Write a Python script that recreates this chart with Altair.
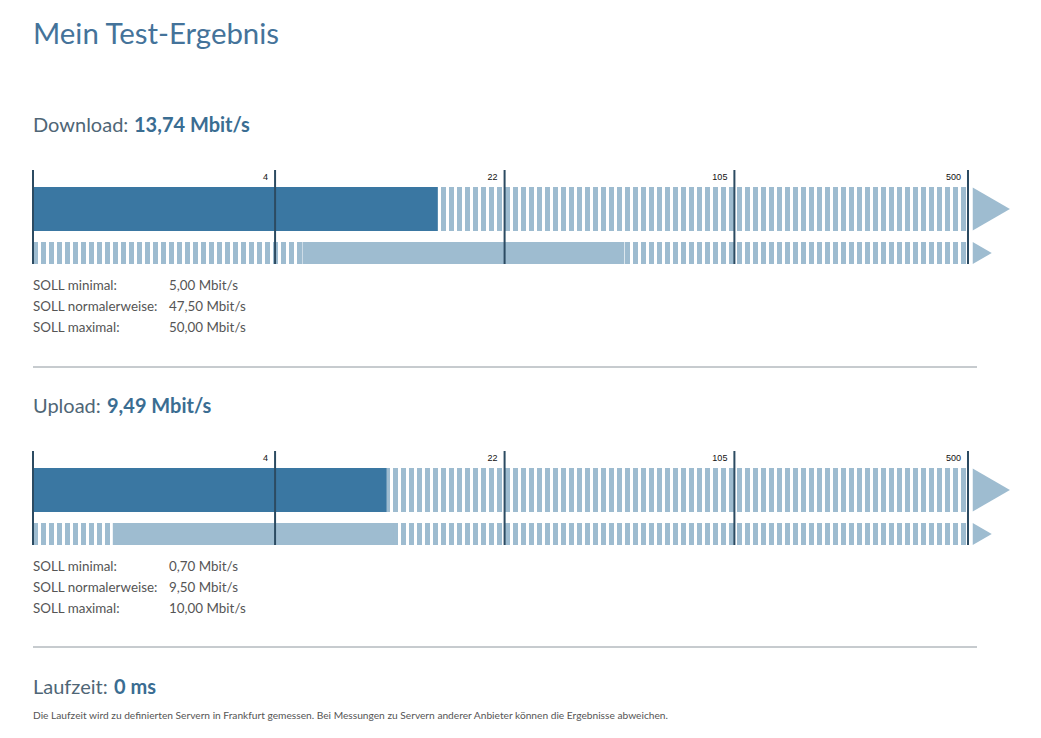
import altair as alt
import pandas as pd

# ---------------- data ----------------
sections = ["Download", "Upload"]
measured = [13.74, 9.49]
soll_min = [5.00, 0.70]
soll_norm = [47.50, 9.50]
soll_max = [50.00, 10.00]
tick_values = [0, 4, 22, 105, 500]
tick_labels = ["", "4", "22", "105", "500"]
soll_labels = ["SOLL minimal:", "SOLL normalerweise:", "SOLL maximal:"]
unit = "Mbit/s"
laufzeit_ms = 0
title_text = "Mein Test-Ergebnis"
footer_text = ("Die Laufzeit wird zu definierten Servern in Frankfurt gemessen. "
               "Bei Messungen zu Servern anderer Anbieter können die Ergebnisse abweichen.")


def de(v):
    return f"{v:.2f}".replace(".", ",")


# ---------------- style ----------------
DARK = "#3a77a2"
LIGHT = "#9ebcd0"
TICK = "#2c4b62"
TITLE = "#44739a"
HEAD_REG = "#4f6676"
HEAD_BOLD = "#3a6d92"
TEXT = "#555555"
SEP = "#8e979e"
FONT = "Lato"

XS = alt.Scale(type="symlog", constant=1, domain=[tick_values[0], tick_values[-1]], range=[25, 960])


def xq(field):
    return alt.X(f"{field}:Q", scale=XS, axis=None)


def text_layer(txt, x, y, size, color, weight="normal", font=FONT, align="left"):
    return alt.Chart(pd.DataFrame({"t": [txt]})).mark_text(
        align=align, baseline="alphabetic", fontSize=size, font=font,
        fontWeight=weight, color=color
    ).encode(x=alt.value(x), y=alt.value(y), text="t:N")


def section(i, off, sep_off):
    layers = []
    # header
    layers.append(text_layer(f"{sections[i]}:", 25, 124 + off, 20, HEAD_REG))
    layers.append(text_layer(f"{de(measured[i])} {unit}", 126 if i == 0 else 99, 124 + off, 20,
                             HEAD_BOLD, weight="bold"))
    full = pd.DataFrame({"start": [tick_values[0]], "end": [tick_values[-1]]})
    # striped backgrounds
    layers.append(alt.Chart(full).mark_rule(color=LIGHT, strokeWidth=44, strokeDash=[5, 3],
                                            strokeCap="butt").encode(
        x=xq("start"), x2="end:Q", y=alt.value(201 + off)))
    layers.append(alt.Chart(full).mark_rule(color=LIGHT, strokeWidth=22, strokeDash=[5, 3],
                                            strokeCap="butt").encode(
        x=xq("start"), x2="end:Q", y=alt.value(245 + off)))
    # measured bar
    meas = pd.DataFrame({"start": [tick_values[0]], "value": [measured[i]]})
    layers.append(alt.Chart(meas).mark_rect(color=DARK).encode(
        x=xq("start"), x2="value:Q", y=alt.value(179 + off), y2=alt.value(223 + off)))
    # target range bar
    soll = pd.DataFrame({"lo": [soll_min[i]], "hi": [soll_max[i]]})
    layers.append(alt.Chart(soll).mark_rect(color=LIGHT).encode(
        x=xq("lo"), x2="hi:Q", y=alt.value(234 + off), y2=alt.value(256 + off)))
    # arrows
    end = pd.DataFrame({"v": [tick_values[-1]]})
    layers.append(alt.Chart(end).mark_point(
        shape="M0.22,-1L1.95,0L0.22,1Z", filled=True, opacity=1, color=LIGHT, size=1849,
        strokeWidth=0).encode(x=xq("v"), y=alt.value(201 + off)))
    layers.append(alt.Chart(end).mark_point(
        shape="M0.43,-1L2.16,0L0.43,1Z", filled=True, opacity=1, color=LIGHT, size=484,
        strokeWidth=0).encode(x=xq("v"), y=alt.value(245 + off)))
    # ticks
    ticks = pd.DataFrame({"v": tick_values, "label": tick_labels})
    layers.append(alt.Chart(ticks).mark_rule(color=TICK, strokeWidth=2).encode(
        x=xq("v"), y=alt.value(162 + off), y2=alt.value(256 + off)))
    layers.append(alt.Chart(ticks).mark_text(
        align="right", baseline="alphabetic", dx=-7, fontSize=9, font="Liberation Sans",
        color="#111111").encode(x=xq("v"), y=alt.value(172 + off), text="label:N"))
    # SOLL text
    vals = [f"{de(v)} {unit}" for v in (soll_min[i], soll_norm[i], soll_max[i])]
    layers.append(alt.Chart(pd.DataFrame({"a": [0]})).mark_text(
        align="left", baseline="alphabetic", fontSize=13.4, font=FONT, color=TEXT,
        lineHeight=21).encode(x=alt.value(25), y=alt.value(282 + off), text=alt.value(soll_labels)))
    layers.append(alt.Chart(pd.DataFrame({"a": [0]})).mark_text(
        align="left", baseline="alphabetic", fontSize=13.4, font=FONT, color=TEXT,
        lineHeight=21).encode(x=alt.value(161), y=alt.value(282 + off), text=alt.value(vals)))
    # separator
    layers.append(alt.Chart(pd.DataFrame({"a": [0]})).mark_rule(color=SEP, strokeWidth=1).encode(
        x=alt.value(25), x2=alt.value(969), y=alt.value(359 + sep_off)))
    return layers


layers = []
layers.append(text_layer(title_text, 25, 36, 29.4, TITLE))
layers += section(0, 0, 0)
layers += section(1, 281, 280)
layers.append(text_layer("Laufzeit:", 25, 686, 20, HEAD_REG))
layers.append(text_layer(f"{laufzeit_ms} ms", 106, 686, 20, HEAD_BOLD, weight="bold"))
layers.append(text_layer(footer_text, 25, 711, 10.2, TEXT))

chart = alt.layer(*layers).properties(
    width=1025, height=722, padding=0,
    autosize=alt.AutoSizeParams(type="none")
).configure_view(stroke=None)

chart.save("out.html", embed_options={"renderer": "svg", "actions": False})
